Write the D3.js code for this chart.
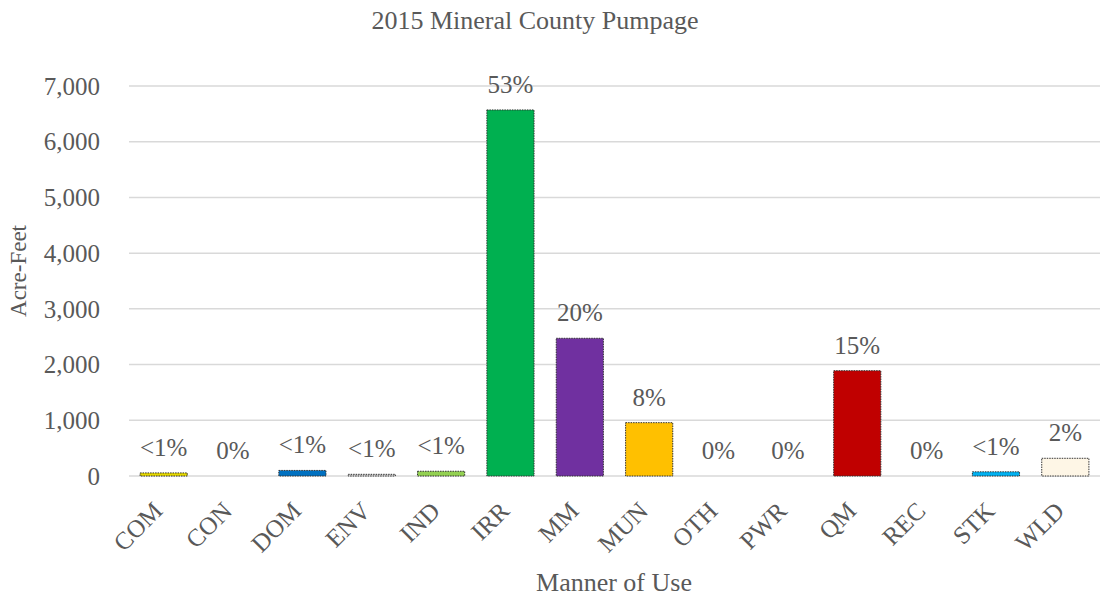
<!DOCTYPE html>
<html><head><meta charset="utf-8">
<script src="https://cdn.jsdelivr.net/npm/d3@7"></script>
<style>body{margin:0;background:#fff}text{font-family:"Liberation Serif","Times New Roman",serif;fill:#595959}</style>
</head><body><svg id="c" width="1104" height="600"></svg>
<script>
const categories = ["COM","CON","DOM","ENV","IND","IRR","MM","MUN","OTH","PWR","QM","REC","STK","WLD"];
const values = [55,0,100,30,85,6570,2472,957,0,0,1890,0,75,318];
const pctLabels = ["<1%","0%","<1%","<1%","<1%","53%","20%","8%","0%","0%","15%","0%","<1%","2%"];
const colors = ["#E5D800","#FFFFFF","#0070C0","#D9D9D9","#92D050","#00B050","#7030A0","#FFC000","#FFFFFF","#FFFFFF","#C00000","#FFFFFF","#00B0F0","#FEF6E6"];
const yTicks = [0,1000,2000,3000,4000,5000,6000,7000];

const svg = d3.select("#c");
const x = d3.scaleBand().domain(categories).range([129,1100]).paddingInner(0.32).paddingOuter(0.16);
const y = d3.scaleLinear().domain([0,7000]).range([476,86]);

// gridlines
svg.append("g").selectAll("line").data(yTicks).join("line")
  .attr("x1",129).attr("x2",1100).attr("y1",d=>y(d)).attr("y2",d=>y(d))
  .attr("stroke","#D9D9D9").attr("stroke-width",1.5);

// y tick labels
const fmt = d3.format(",");
svg.append("g").selectAll("text").data(yTicks).join("text")
  .attr("x",100).attr("y",d=>y(d)).attr("dy","0.35em").attr("text-anchor","end")
  .style("font-size","25px").text(d=>fmt(d));

// bars
svg.append("g").selectAll("rect").data(categories.map((c,i)=>({c,v:values[i],col:colors[i]})).filter(d=>d.v>0)).join("rect")
  .attr("x",d=>x(d.c)).attr("width",x.bandwidth())
  .attr("y",d=>y(d.v)).attr("height",d=>y(0)-y(d.v))
  .attr("fill",d=>d.col).attr("stroke","#333").attr("stroke-width",1).attr("stroke-dasharray","1.5,1");

// data labels
svg.append("g").selectAll("text").data(categories).join("text")
  .attr("x",d=>x(d)+x.bandwidth()/2).attr("y",(d,i)=>y(values[i])-17)
  .attr("text-anchor","middle").style("font-size","25px").text((d,i)=>pctLabels[i]);

// x labels
svg.append("g").selectAll("text").data(categories).join("text")
  .attr("transform",d=>`translate(${x(d)+x.bandwidth()/2-12},${500}) rotate(-45)`)
  .attr("text-anchor","end").attr("dy","0.7em").style("font-size","25px").text(d=>d);

// titles
svg.append("text").attr("x",535).attr("y",29).attr("text-anchor","middle").style("font-size","26px").text("2015 Mineral County Pumpage");
svg.append("text").attr("x",614).attr("y",591).attr("text-anchor","middle").style("font-size","26px").text("Manner of Use");
svg.append("text").attr("transform","translate(26,271) rotate(-90)").attr("text-anchor","middle").style("font-size","23px").text("Acre-Feet");
</script></body></html>
